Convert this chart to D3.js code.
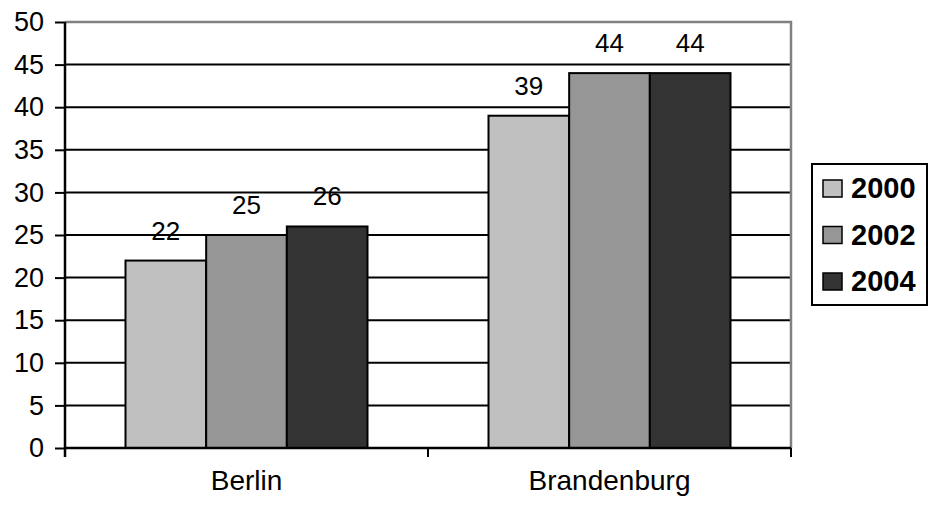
<!DOCTYPE html>
<html>
<head>
<meta charset="utf-8">
<script src="https://cdn.jsdelivr.net/npm/d3@7"></script>
<style>
  html, body { margin: 0; padding: 0; background: #fff; }
  svg { display: block; font-family: "Liberation Sans", Arial, sans-serif; }
</style>
</head>
<body>
<svg id="chart" width="931" height="509"></svg>
<script>
// Data
const categories = ["Berlin", "Brandenburg"];
const years = ["2000", "2002", "2004"];
const values2000 = [22, 39];
const values2002 = [25, 44];
const values2004 = [26, 44];
const yTicks = [0, 5, 10, 15, 20, 25, 30, 35, 40, 45, 50];
const colors = ["#c0c0c0", "#969696", "#333333"];

const series = [values2000, values2002, values2004];

const svg = d3.select("#chart");
const plot = { left: 65, right: 791, top: 22, bottom: 448 };

const y = d3.scaleLinear().domain([0, 50]).range([plot.bottom, plot.top]);
const x0 = d3.scaleBand().domain(categories).range([plot.left, plot.right]).padding(0);
const x1 = d3.scaleBand().domain(years).range([0, x0.bandwidth()])
  .paddingInner(0).paddingOuter(0.75);

// Horizontal gridlines
svg.append("g")
  .selectAll("line")
  .data(yTicks.filter(t => t > 0 && t < 50))
  .join("line")
  .attr("x1", plot.left).attr("x2", plot.right)
  .attr("y1", d => y(d)).attr("y2", d => y(d))
  .attr("stroke", "#000").attr("stroke-width", 2);

// Gray frame on top and right
svg.append("path")
  .attr("d", `M${plot.left},${y(50)}H${plot.right}V${plot.bottom}`)
  .attr("fill", "none").attr("stroke", "#808080").attr("stroke-width", 2.5);

// Bars
const groups = svg.append("g").selectAll("g")
  .data(categories)
  .join("g")
  .attr("transform", d => `translate(${x0(d)},0)`);

groups.selectAll("rect")
  .data((c, ci) => years.map((yr, si) => ({ yr, si, v: series[si][ci] })))
  .join("rect")
  .attr("x", d => x1(d.yr))
  .attr("y", d => y(d.v))
  .attr("width", x1.bandwidth())
  .attr("height", d => y(0) - y(d.v))
  .attr("fill", d => colors[d.si])
  .attr("stroke", "#000").attr("stroke-width", 2);

// Value labels
groups.selectAll("text")
  .data((c, ci) => years.map((yr, si) => ({ yr, si, v: series[si][ci] })))
  .join("text")
  .attr("x", d => x1(d.yr) + x1.bandwidth() / 2)
  .attr("y", d => y(d.v) - 21)
  .attr("text-anchor", "middle")
  .attr("font-size", 26)
  .attr("fill", "#000")
  .text(d => d.v);

// Y axis
const yAxis = d3.axisLeft(y).tickValues(yTicks).tickSize(10).tickPadding(11);
const gy = svg.append("g").attr("transform", `translate(${plot.left},0)`).call(yAxis);
gy.select(".domain").attr("stroke", "#000").attr("stroke-width", 2.5).attr("d", `M0,${plot.top}V${plot.bottom + 9}`);
gy.selectAll(".tick line").attr("stroke", "#000").attr("stroke-width", 2);
gy.selectAll(".tick text").attr("font-size", 27).attr("fill", "#000")
  .attr("font-family", "Liberation Sans, Arial, sans-serif");

// X axis
const xAxis = d3.axisBottom(x0).tickSize(0).tickPadding(22);
const gx = svg.append("g").attr("transform", `translate(0,${plot.bottom})`).call(xAxis);
gx.select(".domain").attr("stroke", "#000").attr("stroke-width", 2.5).attr("d", `M${plot.left},0H${plot.right}`);
gx.selectAll(".tick text").attr("font-size", 28).attr("fill", "#000")
  .attr("font-family", "Liberation Sans, Arial, sans-serif");
// Category separators below the axis
const sepX = [plot.left, ...categories.slice(1).map(c => x0(c)), plot.right];
gx.append("g").selectAll("line").data(sepX).join("line")
  .attr("x1", d => d).attr("x2", d => d)
  .attr("y1", 0).attr("y2", 9)
  .attr("stroke", "#000").attr("stroke-width", 2);

// Legend
const legend = svg.append("g").attr("transform", "translate(812,164)");
legend.append("rect")
  .attr("width", 115).attr("height", 141)
  .attr("fill", "#fff").attr("stroke", "#000").attr("stroke-width", 2);
const rows = legend.selectAll("g.row")
  .data(years)
  .join("g")
  .attr("class", "row")
  .attr("transform", (d, i) => `translate(0,${24 + i * 46.5})`);
rows.append("rect")
  .attr("x", 11).attr("y", -8).attr("width", 19).attr("height", 17)
  .attr("fill", (d, i) => colors[i]).attr("stroke", "#000").attr("stroke-width", 1.5);
rows.append("text")
  .attr("x", 39).attr("y", 0).attr("dy", "0.36em")
  .attr("font-size", 29).attr("font-weight", "bold").attr("fill", "#000")
  .text(d => d);
</script>
</body>
</html>
